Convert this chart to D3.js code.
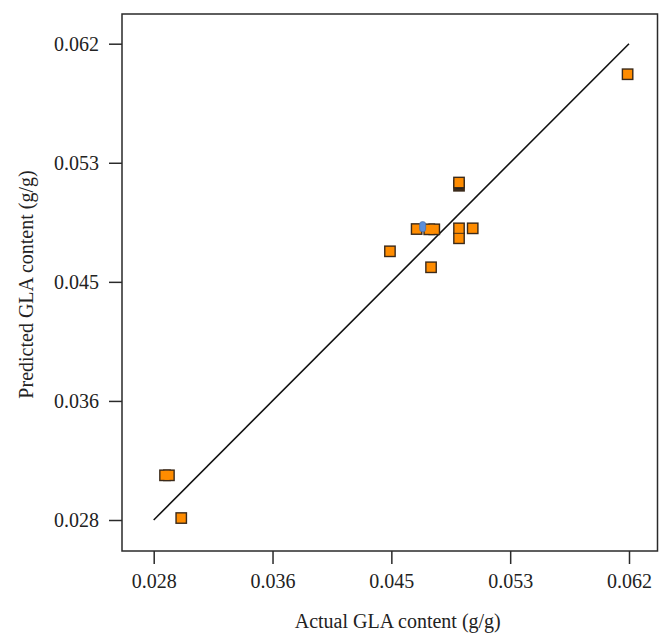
<!DOCTYPE html>
<html>
<head>
<meta charset="utf-8">
<script src="https://cdn.jsdelivr.net/npm/d3@7/dist/d3.min.js"></script>
<style>
  html, body { margin: 0; padding: 0; background: #fff; }
  svg { display: block; }
  text { font-family: "Liberation Serif", "DejaVu Serif", serif; fill: #222; }
</style>
</head>
<body>
<svg id="chart" width="672" height="643"></svg>
<script>
// ---- data ----
const actualGLA    = [0.04681, 0.04724, 0.04771, 0.04807, 0.04984, 0.04984, 0.05082, 0.04490, 0.04784,
                      0.04984, 0.04984, 0.02881, 0.02909, 0.02997, 0.06190];
const predictedGLA = [0.04877, 0.04894, 0.04875, 0.04875, 0.04882, 0.04811, 0.04882, 0.04718, 0.04604,
                      0.05186, 0.05209, 0.03119, 0.03119, 0.02814, 0.05982];
const pointGroup   = ["o", "b", "o", "o", "o", "o", "o", "o", "o",
                      "d", "o", "o", "o", "o", "o"];
const tickValues = [0.028, 0.0365, 0.045, 0.0535, 0.062];
const tickLabels = ["0.028", "0.036", "0.045", "0.053", "0.062"];
const xTitle = "Actual GLA content (g/g)";
const yTitle = "Predicted GLA content (g/g)";
const fitLine = [0.028, 0.062];

// ---- layout ----
const svg = d3.select("#chart");
const L = 122, R = 657.5, T = 14, B = 551;
const x = d3.scaleLinear().domain([0.028, 0.062]).range([153.7, 629]);
const y = d3.scaleLinear().domain([0.028, 0.062]).range([520, 43.7]);

// frame
svg.append("rect").attr("x", L).attr("y", T).attr("width", R - L).attr("height", B - T)
  .attr("fill", "none").attr("stroke", "#2a2a2a").attr("stroke-width", 1.5);

// axes
const fmt = (d) => tickLabels[tickValues.indexOf(d)];
const xAxis = svg.append("g").attr("transform", `translate(0,${B})`)
  .call(d3.axisBottom(x).tickValues(tickValues).tickFormat(fmt).tickSize(13).tickPadding(10));
const yAxis = svg.append("g").attr("transform", `translate(${L},0)`)
  .call(d3.axisLeft(y).tickValues(tickValues).tickFormat(fmt).tickSize(13).tickPadding(10));
[xAxis, yAxis].forEach(g => {
  g.select(".domain").remove();
  g.selectAll(".tick line").attr("stroke", "#2a2a2a").attr("stroke-width", 1.5);
  g.selectAll(".tick text").style("font-family", "'Liberation Serif', serif")
    .style("font-size", "20px").attr("fill", "#222");
});

// titles
svg.append("text").attr("x", (L + R) / 2 + 8).attr("y", 628).attr("text-anchor", "middle")
  .style("font-size", "20px").text(xTitle);
svg.append("text").attr("transform", `translate(33,${(T + B) / 2 + 2}) rotate(-90)`)
  .attr("text-anchor", "middle").style("font-size", "20px").text(yTitle);

// fit line
svg.append("line")
  .attr("x1", x(fitLine[0])).attr("y1", y(fitLine[0]))
  .attr("x2", x(fitLine[1])).attr("y2", y(fitLine[1]))
  .attr("stroke", "#111").attr("stroke-width", 1.6);

// points
const pts = actualGLA.map((a, i) => ({ a, p: predictedGLA[i], g: pointGroup[i] }));
const sq = pts.filter(d => d.g !== "b");
const W = 9, H = 9, SW = 1.4;
// outline layer (union outline for overlapping markers)
svg.append("g").selectAll("rect").data(sq).join("rect")
  .attr("x", d => x(d.a) - W / 2).attr("y", d => y(d.p) - H / 2)
  .attr("width", W).attr("height", H)
  .attr("fill", d => d.g === "d" ? "#1a1a1a" : "#3b2a1a")
  .attr("stroke", "#3b2a1a").attr("stroke-width", SW * 2);
// fill layer
svg.append("g").selectAll("rect").data(sq.filter(d => d.g !== "d")).join("rect")
  .attr("x", d => x(d.a) - W / 2).attr("y", d => y(d.p) - H / 2)
  .attr("width", W).attr("height", H)
  .attr("fill", "#ff8c00");
// blue marker
svg.append("g").selectAll("rect").data(pts.filter(d => d.g === "b")).join("rect")
  .attr("x", d => x(d.a) - 3).attr("y", d => y(d.p) - 5).attr("width", 6).attr("height", 10)
  .attr("rx", 2.5).attr("fill", "#5b8edb").attr("stroke", "#4a6fa8").attr("stroke-width", 0.8);
</script>
</body>
</html>
